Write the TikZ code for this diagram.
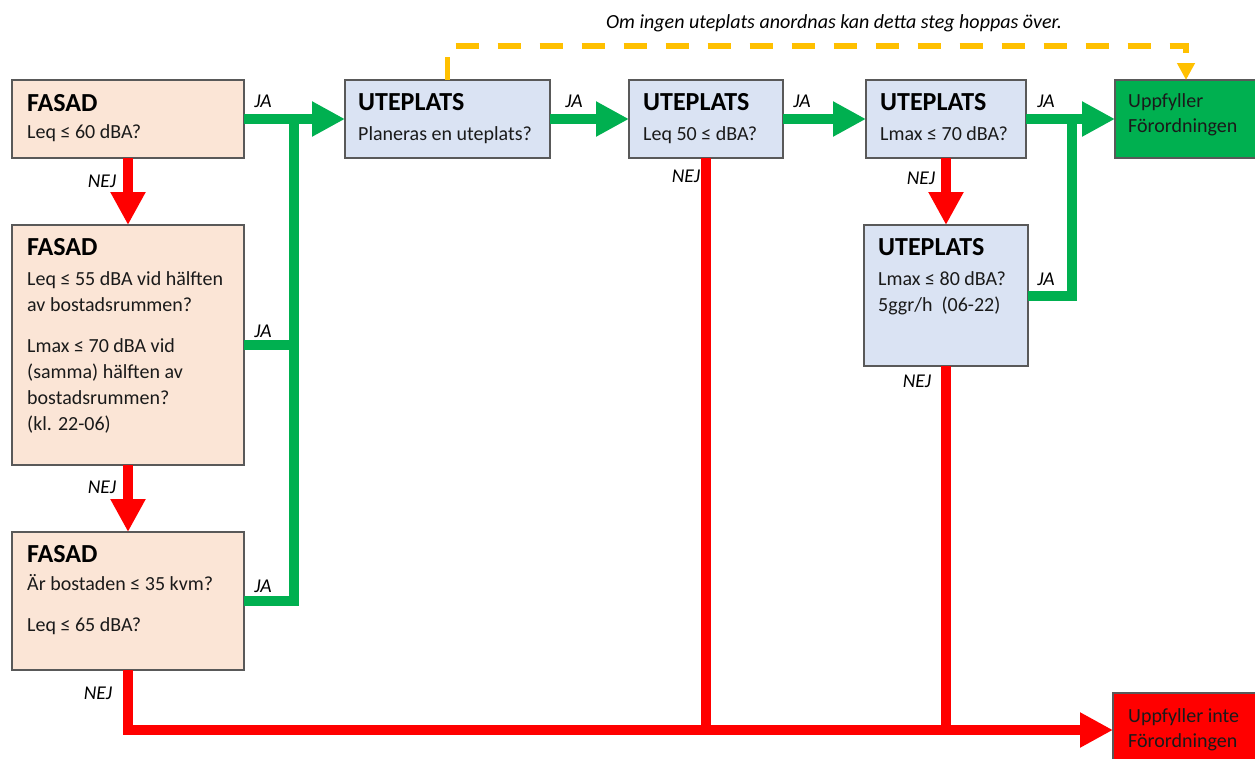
\documentclass[tikz,border=0pt]{standalone}
\usepackage{fontspec}
\setmainfont{Carlito}
\usetikzlibrary{arrows.meta,calc}
\definecolor{peach}{HTML}{FBE5D6}
\definecolor{lblue}{HTML}{DAE3F3}
\definecolor{bord}{HTML}{595959}
\definecolor{gr}{HTML}{00B050}
\definecolor{rd}{HTML}{FF0000}
\definecolor{yl}{HTML}{FFC000}
\definecolor{txt}{HTML}{1A1A1A}
\begin{document}
\begin{tikzpicture}[x=1pt,y=-1pt,
  box/.style={draw=bord,line width=1.4pt,inner sep=0pt,outer sep=0pt,anchor=north west},
  fasad/.style={box,fill=peach},
  ute/.style={box,fill=lblue},
  ttl/.style={anchor=base west,inner sep=0pt,text=black,font=\fontsize{26}{28}\selectfont\bfseries},
  body/.style={anchor=base west,inner sep=0pt,text=txt,font=\fontsize{20}{26}\selectfont},
  lbl/.style={inner sep=0pt,text=black,font=\fontsize{19.5}{22}\selectfont\itshape},
  note/.style={inner sep=0pt,text=black,font=\fontsize{20}{22}\selectfont\itshape},
  gline/.style={color=gr,line width=10pt},
  rline/.style={color=rd,line width=10pt},
  bigtip/.style={-{Triangle[length=33pt,width=33pt]}},
  ydash/.style={color=yl,line width=5.5pt,dash pattern=on 23pt off 19pt,-{Triangle[length=17pt,width=17pt]}}
]
\clip (0,0) rectangle (1255,758);
\fill[white] (0,0) rectangle (1255,758);

% boxes
\node[fasad,minimum width=232pt,minimum height=78pt] (f1) at (12,80) {};
\node[fasad,minimum width=232pt,minimum height=240pt] (f2) at (12,225) {};
\node[fasad,minimum width=232pt,minimum height=138pt] (f3) at (12,532) {};
\node[ute,minimum width=205pt,minimum height=78pt] (u1) at (345,80) {};
\node[ute,minimum width=154pt,minimum height=78pt] (u2) at (629,80) {};
\node[ute,minimum width=160pt,minimum height=78pt] (u3) at (866,80) {};
\node[ute,minimum width=164pt,minimum height=141pt] (u4) at (864,225) {};
\node[box,fill=gr,minimum width=142pt,minimum height=78pt] (g) at (1115,80) {};
\node[box,fill=rd,minimum width=145pt,minimum height=74pt] (r) at (1113,693) {};

% texts in boxes
\node[ttl] (f1t) at ($(f1.north west)+(15,31)$) {FASAD};
\node[body] (f1b) at ($(f1.north west)+(15,58)$) {Leq ≤ 60 dBA?};
\node[ttl] (f2t) at ($(f2.north west)+(15,30)$) {FASAD};
\node[body] (f2b) at ($(f2.north west)+(15,60)$) {\parbox[t]{225pt}{\setlength{\parskip}{15pt}Leq ≤ 55 dBA vid hälften\\av bostadsrummen?\par Lmax ≤ 70 dBA vid\\(samma) hälften av\\bostadsrummen?\\(kl. 22-06)}};
\node[ttl] (f3t) at ($(f3.north west)+(15,30)$) {FASAD};
\node[body] (f3b) at ($(f3.north west)+(15,58)$) {\parbox[t]{225pt}{\setlength{\parskip}{15pt}Är bostaden ≤ 35 kvm?\par Leq ≤ 65 dBA?}};
\node[ttl] (u1t) at ($(u1.north west)+(13,30)$) {UTEPLATS};
\node[body] (u1b) at ($(u1.north west)+(13,60)$) {Planeras en uteplats?};
\node[ttl] (u2t) at ($(u2.north west)+(14,30)$) {UTEPLATS};
\node[body] (u2b) at ($(u2.north west)+(14,60)$) {Leq 50 ≤ dBA?};
\node[ttl] (u3t) at ($(u3.north west)+(14,30)$) {UTEPLATS};
\node[body] (u3b) at ($(u3.north west)+(14,60)$) {Lmax ≤ 70 dBA?};
\node[ttl] (u4t) at ($(u4.north west)+(14,30)$) {UTEPLATS};
\node[body] (u4b) at ($(u4.north west)+(14,60)$) {\parbox[t]{150pt}{Lmax ≤ 80 dBA?\\5ggr/h\ \ (06-22)}};
\node[body] (gt) at ($(g.north west)+(13,27)$) {\parbox[t]{130pt}{\baselineskip=25pt Uppfyller\\Förordningen}};
\node[body] (rt) at ($(r.north west)+(15,29)$) {\parbox[t]{130pt}{\baselineskip=25pt Uppfyller inte\\Förordningen}};

% junction coordinates
\coordinate (jA) at (294,119);
\coordinate (jB) at (1072,119);

% green connectors
\draw[gline] (f2.east) -- (f2.east -| jA);
\draw[gline] (f3.east) -| (jA);
\draw[gline,bigtip] (f1.east) -- (u1.west);
\draw[gline,bigtip] (u1.east) -- (u2.west);
\draw[gline,bigtip] (u2.east) -- (u3.west);
\draw[gline] (u4.east) -| (jB);
\draw[gline,bigtip] (u3.east) -- (g.west);

% red connectors
\draw[rline,bigtip] (f1.south) -- (f2.north);
\draw[rline,bigtip] (f2.south) -- (f3.north);
\draw[rline,bigtip] (u3.south) -- (u4.north);
\draw[rline] (u2.south) -- (u2.south |- r.west);
\draw[rline] (u4.south) -- (u4.south |- r.west);
\draw[rline,bigtip] (f3.south) |- (r.west);

% yellow dashed skip
\draw[ydash] (u1.north) -- ++(0,-34) -| (g.north);
\node[note,anchor=base] (noteA) at (834,28) {Om ingen uteplats anordnas kan detta steg hoppas över.};

% labels
\node[lbl] (ja1) at (263,101) {JA};
\node[lbl] (nej1) at (102,181) {NEJ};
\node[lbl] (ja2) at (263,331) {JA};
\node[lbl] (nej2) at (102,487) {NEJ};
\node[lbl] (ja3) at (263,586) {JA};
\node[lbl] (nej3) at (98,693) {NEJ};
\node[lbl] (ja4) at (574,101) {JA};
\node[lbl] (nej4) at (686,176) {NEJ};
\node[lbl] (ja5) at (802,101) {JA};
\node[lbl] (ja6) at (1046,101) {JA};
\node[lbl] (nej5) at (921,178) {NEJ};
\node[lbl] (ja7) at (1046,279) {JA};
\node[lbl] (nej6) at (917,381) {NEJ};
\end{tikzpicture}
\end{document}
